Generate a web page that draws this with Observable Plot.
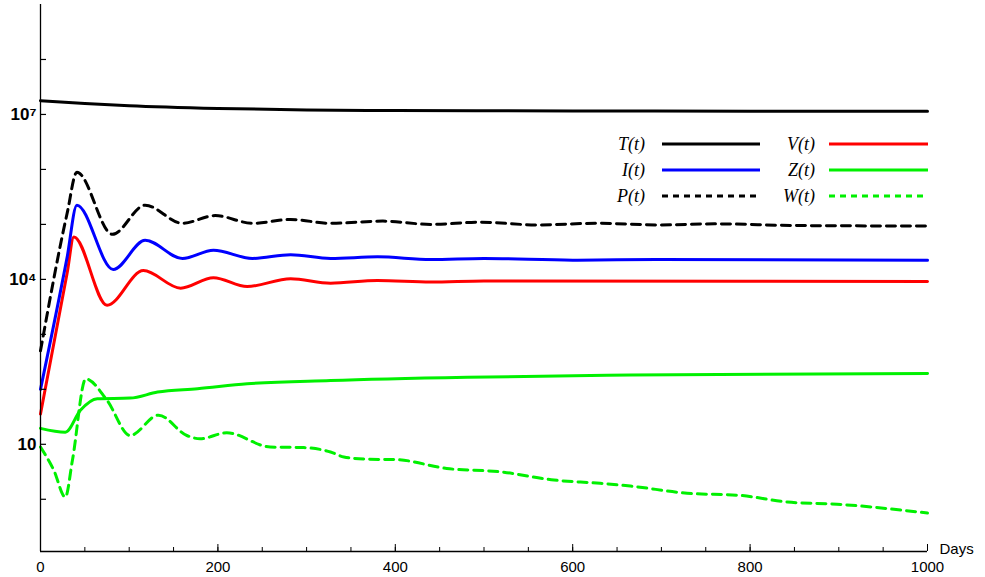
<!DOCTYPE html>
<html>
<head>
<meta charset="utf-8">
<script src="https://cdn.jsdelivr.net/npm/d3@7"></script>
<script src="https://cdn.jsdelivr.net/npm/@observablehq/plot@0.6"></script>
<style>
  html, body { margin: 0; padding: 0; background: #fff; }
  #wrap { position: relative; width: 985px; height: 577px; }
  #legend { position: absolute; left: 0; top: 0; pointer-events: none; }
</style>
</head>
<body>
<div id="wrap"></div>
<script>
// ---- Data (stored as log10 of the value) ----
const T_days  = [0, 50, 100, 200, 300, 400, 600, 800, 1000];
const T_log10 = [7.25, 7.2, 7.16, 7.11, 7.08, 7.07, 7.065, 7.06, 7.06];

const P_days  = [0, 30, 41, 81, 118, 160, 197, 239, 282, 327, 386, 440, 496, 560, 626, 700, 760, 850, 1000];
const P_log10 = [2.7, 5.2, 5.95, 4.82, 5.35, 5.02, 5.16, 5.02, 5.09, 5.02, 5.06, 5.0, 5.04, 4.99, 5.02, 4.99, 5.01, 4.98, 4.97];

const I_days  = [0, 30, 41, 82, 118, 160, 195, 239, 282, 327, 380, 440, 500, 600, 700, 1000];
const I_log10 = [2.0, 4.4, 5.35, 4.18, 4.71, 4.38, 4.53, 4.38, 4.45, 4.38, 4.41, 4.36, 4.38, 4.35, 4.36, 4.35];

const V_days  = [0, 30, 37.6, 75, 116, 158, 195, 233, 282, 327, 380, 440, 500, 1000];
const V_log10 = [1.55, 4.11, 4.77, 3.53, 4.16, 3.84, 4.03, 3.87, 4.01, 3.93, 3.98, 3.95, 3.97, 3.96];

const Z_days  = [0, 28, 45, 64, 101, 132, 177, 233, 327, 481, 665, 1000];
const Z_log10 = [1.29, 1.22, 1.62, 1.83, 1.84, 1.95, 2.01, 2.10, 2.16, 2.22, 2.26, 2.29];

const W_days  = [0, 15, 28, 36, 51, 75, 101, 133, 165, 180, 210, 259, 297, 327, 342, 368, 402, 458, 518, 579, 631, 665, 729, 789, 842, 898, 1000];
const W_log10 = [0.95, 0.53, 0.04, 0.71, 2.19, 1.8, 1.16, 1.53, 1.16, 1.10, 1.21, 0.95, 0.94, 0.86, 0.77, 0.73, 0.72, 0.56, 0.50, 0.35, 0.29, 0.24, 0.11, 0.07, -0.05, -0.09, -0.25];

const seriesNames  = ["T(t)", "V(t)", "I(t)", "Z(t)", "P(t)", "W(t)"];
const seriesColors = ["#000000", "#ff0000", "#0000ff", "#00f000", "#000000", "#00f000"];
const seriesDashed = [false, false, false, false, true, true];
const seriesDays   = [T_days, V_days, I_days, Z_days, P_days, W_days];
const seriesLog10  = [T_log10, V_log10, I_log10, Z_log10, P_log10, W_log10];

const yTickValues = [1, 10, 1e2, 1e3, 1e4, 1e5, 1e6, 1e7, 1e8];
const yLabelValues = [10, 1e4, 1e7];
const yLabelTexts  = ["10", "10\u2074", "10\u2077"];
const xMinorTicks = d3.range(0, 1001, 50);
const xMajorTicks = [0, 200, 400, 600, 800, 1000];
const xLabel = "Days";

// ---- Build tables ----
const rows = [];
seriesNames.forEach((name, k) => {
  seriesDays[k].forEach((t, i) => rows.push({series: name, t, v: Math.pow(10, seriesLog10[k][i])}));
});
const yMin = Math.pow(10, -0.95), yMax = 1e9;
const labelMap = new Map(yLabelValues.map((v, i) => [v, yLabelTexts[i]]));

const lineMarks = seriesNames.map((name, k) =>
  Plot.line(rows.filter(r => r.series === name), {
    x: "t", y: "v",
    stroke: seriesColors[k],
    strokeWidth: 3,
    strokeDasharray: seriesDashed[k] ? "9,6" : null,
    curve: "monotone-x"
  })
);

const chart = Plot.plot({
  width: 985, height: 577,
  marginLeft: 40, marginRight: 58, marginTop: 4, marginBottom: 26,
  style: {background: "#fff", color: "#000", fontFamily: "Liberation Sans, Arial, sans-serif", fontSize: "14px"},
  x: {domain: [0, 1000], axis: null},
  y: {type: "log", domain: [yMin, yMax], axis: null},
  marks: [
    ...lineMarks,
    Plot.ruleX([0], {stroke: "#000", strokeWidth: 1.3}),
    Plot.ruleY([yMin], {stroke: "#000", strokeWidth: 1.3}),
    Plot.axisY({ticks: yTickValues, tickSize: -6, tickFormat: () => "", label: null, strokeWidth: 1.2}),
    Plot.axisY({ticks: yLabelValues, tickSize: 0, tickPadding: 4, tickFormat: d => labelMap.get(d), label: null,
                fontSize: 17, fontWeight: "bold", fontFamily: "Liberation Sans, Arial, sans-serif"}),
    Plot.axisX({ticks: xMinorTicks, tickSize: -4, tickFormat: () => "", label: null, strokeWidth: 1}),
    Plot.axisX({ticks: xMajorTicks, tickSize: -7, tickFormat: () => "", label: null, strokeWidth: 1}),
    Plot.axisX({ticks: xMajorTicks, tickSize: 0, tickPadding: 10, tickFormat: d => String(d), label: null,
                fontSize: 15, fontFamily: "Liberation Sans Narrow, Liberation Sans, Arial, sans-serif"}),
    Plot.text([xLabel], {x: () => 1000, y: () => yMin, text: d => d, dx: 12, dy: -2, textAnchor: "start",
                fontSize: 15, fontFamily: "Liberation Sans Narrow, Liberation Sans, Arial, sans-serif"})
  ]
});

const wrap = document.getElementById("wrap");
wrap.appendChild(chart);

// ---- Legend overlay ----
const legendCols = [{labelRight: 645, x1: 662, x2: 760}, {labelRight: 815, x1: 829, x2: 928}];
const legendRowY = [144, 170, 196];
const svg = d3.select(wrap).append("svg")
  .attr("id", "legend").attr("width", 985).attr("height", 577);
seriesNames.forEach((name, k) => {
  const col = legendCols[k % 2], y = legendRowY[Math.floor(k / 2)];
  svg.append("text")
    .attr("x", col.labelRight).attr("y", y).attr("dy", "0.35em")
    .attr("text-anchor", "end")
    .attr("font-family", "Liberation Serif, Times New Roman, serif")
    .attr("font-style", "italic").attr("font-size", 18)
    .text(name);
  svg.append("line")
    .attr("x1", col.x1).attr("x2", col.x2).attr("y1", y).attr("y2", y)
    .attr("stroke", seriesColors[k]).attr("stroke-width", 3)
    .attr("stroke-dasharray", seriesDashed[k] ? "6,5" : null);
});
</script>
</body>
</html>
